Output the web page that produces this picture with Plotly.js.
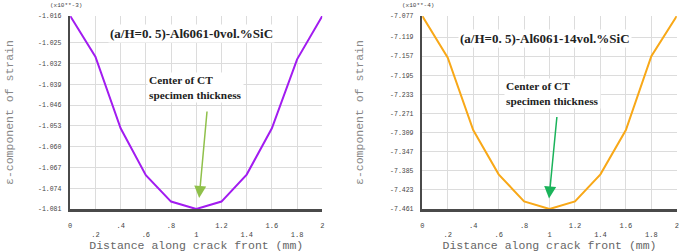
<!DOCTYPE html>
<html><head><meta charset="utf-8">
<script src="https://cdn.plot.ly/plotly-3.0.1.min.js"></script>
<style>html,body{margin:0;padding:0;background:#fff}#c{width:685px;height:252px}</style>
</head><body><div id="c"></div>
<script>
const distance = [0, 0.2, 0.4, 0.6, 0.8, 1.0, 1.2, 1.4, 1.6, 1.8, 2.0];
const strain0 = [-1.016, -1.0297, -1.0538, -1.0696, -1.0785, -1.081, -1.0785, -1.0694, -1.0538, -1.0306, -1.016];
const strain14 = [-7.077, -7.160, -7.304, -7.392, -7.446, -7.461, -7.446, -7.392, -7.304, -7.157, -7.077];
const yTicks0 = [-1.016, -1.025, -1.032, -1.039, -1.046, -1.053, -1.060, -1.067, -1.074, -1.081];
const yTicks14 = [-7.077, -7.119, -7.157, -7.195, -7.233, -7.271, -7.309, -7.347, -7.385, -7.423, -7.461];
const xTickVals = [0, 0.2, 0.4, 0.6, 0.8, 1.0, 1.2, 1.4, 1.6, 1.8, 2.0];
const xTickLabels = ["0", ".2", ".4", ".6", ".8", "1", "1.2", "1.4", "1.6", "1.8", "2"];
const titles = ["(a/H=0. 5)-Al6061-0vol.%SiC", "(a/H=0. 5)-Al6061-14vol.%SiC"];
const scaleLabels = ["(x10**-3)", "(x10**-4)"];
const yTitle = "ε-component of strain";
const xTitle = "Distance along crack front (mm)";
const noteText = "Center of CT<br>specimen thickness";

const mono = "Liberation Mono, Courier New, monospace";
const serif = "Liberation Serif, Times New Roman, serif";
const staggered = xTickLabels.map((t, i) => i % 2 ? "\u00a0<br>" + t : t + "<br>\u00a0");

function xa(domain) {
  return {domain: domain, range: [0, 2], tickvals: xTickVals, ticktext: staggered,
    showgrid: true, gridcolor: "#dcdcdc", gridwidth: 1, zeroline: false,
    showline: true, linecolor: "#4a4a4a", linewidth: 2.5, ticks: "",
    ticklabelstandoff: 8,
    tickfont: {family: mono, size: 7, color: "#444"},
    title: {text: xTitle, font: {family: mono, size: 11.5, color: "#666"}, standoff: 0},
    fixedrange: true};
}
function ya(range, ticks, anchor) {
  return {domain: [0.1706, 0.9365], range: range, tickvals: ticks,
    ticktext: ticks.map(v => v.toFixed(3)), anchor: anchor,
    showgrid: true, gridcolor: "#dcdcdc", gridwidth: 1, zeroline: false,
    showline: true, linecolor: "#4a4a4a", linewidth: 2.5, ticks: "",
    ticklabelstandoff: 5,
    tickfont: {family: mono, size: 6.5, color: "#444"}, fixedrange: true};
}

const data = [
  {x: distance, y: strain0, xaxis: "x", yaxis: "y", mode: "lines",
   line: {color: "#a21cf0", width: 2}, showlegend: false},
  {x: distance, y: strain14, xaxis: "x2", yaxis: "y2", mode: "lines",
   line: {color: "#f8a818", width: 2}, showlegend: false}
];

const layout = {
  width: 685, height: 252, margin: {l: 0, r: 0, t: 0, b: 0},
  paper_bgcolor: "#fff", plot_bgcolor: "#fff",
  xaxis: xa([0.1025, 0.4705]),
  yaxis: ya([-1.081, -1.016], yTicks0, "x"),
  xaxis2: Object.assign(xa([0.6165, 0.988]), {anchor: "y2"}),
  yaxis2: ya([-7.461, -7.077], yTicks14, "x2"),
  annotations: [
    {xref: "paper", yref: "paper", x: 191.5/685, y: 1 - 34/252, xanchor: "center", yanchor: "middle",
     text: "<b>" + titles[0] + "</b>",
     showarrow: false, bgcolor: "#fff", font: {family: serif, size: 13, color: "#222"}},
    {xref: "paper", yref: "paper", x: 545/685, y: 1 - 38/252, xanchor: "center", yanchor: "middle",
     text: "<b>" + titles[1] + "</b>",
     showarrow: false, bgcolor: "#fff", font: {family: serif, size: 13, color: "#222"}},
    {xref: "paper", yref: "paper", x: 147/685, y: 1 - 87/252, xanchor: "left", yanchor: "middle", align: "left",
     text: "<b>" + noteText + "</b>", showarrow: false, bgcolor: "#fff",
     font: {family: serif, size: 11.3, color: "#222"}},
    {xref: "paper", yref: "paper", x: 504/685, y: 1 - 93/252, xanchor: "left", yanchor: "middle", align: "left",
     text: "<b>" + noteText + "</b>", showarrow: false, bgcolor: "#fff",
     font: {family: serif, size: 11.3, color: "#222"}},
    {xref: "x", yref: "y", x: 1.023, y: -1.0773, ax: 8, ay: -88, text: "", showarrow: true,
     arrowhead: 2, arrowsize: 1.6, arrowwidth: 1.5, arrowcolor: "#8fc04a"},
    {xref: "x2", yref: "y2", x: 0.996, y: -7.440, ax: 8, ay: -83, text: "", showarrow: true,
     arrowhead: 2, arrowsize: 1.6, arrowwidth: 1.5, arrowcolor: "#1ab35a"},
    {xref: "paper", yref: "paper", x: 66/685, y: 1 - 5/252, xanchor: "center", yanchor: "middle",
     text: scaleLabels[0], showarrow: false,
     font: {family: mono, size: 6, color: "#444"}},
    {xref: "paper", yref: "paper", x: 418/685, y: 1 - 5/252, xanchor: "center", yanchor: "middle",
     text: scaleLabels[1], showarrow: false,
     font: {family: mono, size: 6, color: "#444"}},
    {xref: "paper", yref: "paper", x: 10/685, y: 1 - 113/252, xanchor: "center", yanchor: "middle",
     text: yTitle, textangle: -90, showarrow: false,
     font: {family: mono, size: 11.5, color: "#888"}},
    {xref: "paper", yref: "paper", x: 360/685, y: 1 - 113/252, xanchor: "center", yanchor: "middle",
     text: yTitle, textangle: -90, showarrow: false,
     font: {family: mono, size: 11.5, color: "#888"}}
  ]
};
Plotly.newPlot("c", data, layout, {staticPlot: true, displayModeBar: false});
</script></body></html>
